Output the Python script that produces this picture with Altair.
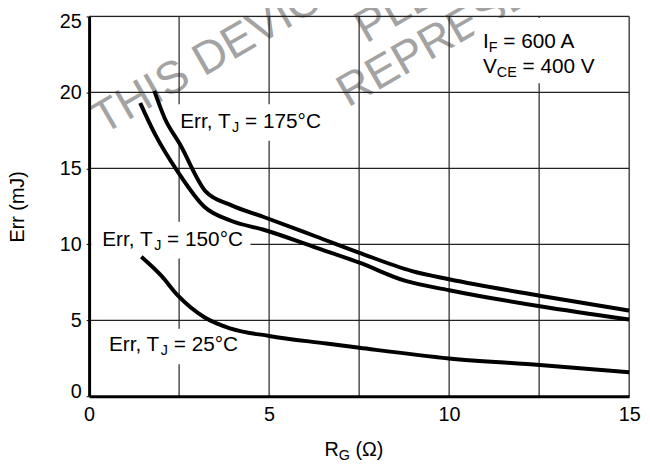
import altair as alt
import pandas as pd

# ---------------- data ----------------
rg_175 = [1.81, 2.10, 2.52, 3.25, 3.94, 4.85, 6.32, 7.51, 8.97, 10.0, 12.52, 15.0]
err_175 = [20.1, 18.3, 16.6, 13.45, 12.58, 11.8, 10.5, 9.44, 8.24, 7.70, 6.62, 5.64]

rg_150 = [1.42, 1.83, 2.47, 3.20, 3.94, 4.85, 6.32, 7.51, 8.79, 10.0, 12.52, 15.0]
err_150 = [19.3, 17.25, 14.75, 12.47, 11.55, 10.96, 9.77, 8.79, 7.59, 6.98, 5.92, 5.05]

rg_25 = [1.45, 2.01, 2.47, 3.20, 3.94, 5.0, 6.59, 7.51, 10.0, 12.52, 15.0]
err_25 = [9.18, 7.92, 6.62, 5.20, 4.45, 3.97, 3.47, 3.19, 2.49, 2.06, 1.58]

x_ticks = [0, 5, 10, 15]
y_ticks = [0, 5, 10, 15, 20, 25]
x_grid = [2.5, 5, 7.5, 10, 12.5, 15]
y_grid = [5, 10, 15, 20, 25]

y_title = "Err (mJ)"
watermark_lines = ["THIS DEVICE", "PLEASE", "REPRESENTATIVE"]

# ---------------- layout / style ----------------
W, H = 546, 384
FONT = "Liberation Sans"
ANN, SUB, SUB_DY = 21, 14.5, 4
TITLE = 20

x_scale = alt.Scale(domain=[0, 15], nice=False, zero=False)
y_scale = alt.Scale(domain=[0, 25], nice=False, zero=False)

X_AXIS = alt.Axis(values=x_ticks, grid=False, ticks=False, title=None,
                  domainColor="black", domainWidth=3,
                  labelFont=FONT, labelFontSize=20, labelColor="black",
                  labelPadding=9, labelFlush=False, zindex=1)
Y_AXIS = alt.Axis(values=y_ticks, grid=False, ticks=True, tickSize=3,
                  tickColor="black", title=y_title,
                  domainColor="black", domainWidth=3,
                  labelFont=FONT, labelFontSize=20, labelColor="black",
                  labelPadding=5, labelFlush=True, labelFlushOffset=5,
                  titleFont=FONT, titleFontSize=20, titleFontWeight="normal",
                  titleColor="black", titlePadding=32, zindex=1)


def X(field):
    return alt.X(field, scale=x_scale, axis=X_AXIS)


def Y(field):
    return alt.Y(field, scale=y_scale, axis=Y_AXIS)


# Liberation Sans / Arial advance widths (per 1000 em)
WIDTHS = {' ': 278, ',': 278, '(': 333, ')': 333, '=': 584, 'A': 667,
          'C': 722, 'E': 667, 'F': 611, 'G': 778, 'I': 278, 'J': 500, 'R': 722,
          'T': 611, 'V': 667, 'r': 333, 'm': 833, '°': 400, 'Ω': 768}


def tw(s, size):
    return sum(WIDTHS.get(c, 556) for c in s) * size / 1000.0


def composite(x, y, parts, main=ANN, pixel=False):
    """Text built from pieces so that subscripts can be drawn."""
    layers = []
    off = 0.0
    for txt, is_sub in parts:
        size = SUB if is_sub else main
        lead = len(txt) - len(txt.lstrip(" "))
        off += lead * WIDTHS[' '] * size / 1000.0
        txt = txt.lstrip(" ")
        df = pd.DataFrame({"x": [x], "y": [y], "t": [txt]})
        mk = alt.Chart(df).mark_text(
            align="left", baseline="alphabetic", dx=off,
            dy=SUB_DY if is_sub else 0, fontSize=size, font=FONT, color="black")
        if pixel:
            enc = mk.encode(x=alt.value(x), y=alt.value(y), text="t:N")
        else:
            enc = mk.encode(x=X("x:Q"), y=Y("y:Q"), text="t:N")
        layers.append(enc)
        off += tw(txt, size)
    return layers


# ---------------- watermark ----------------
wm_df = pd.DataFrame({"x": [0.385, 7.69, 7.19], "y": [17.2, 23.2, 18.99],
                      "t": watermark_lines})
watermark = alt.Chart(wm_df).mark_text(
    angle=330, align="left", baseline="alphabetic", fontSize=46,
    font=FONT, color="#a3a3a3").encode(x=X("x:Q"), y=Y("y:Q"), text="t:N")

# ---------------- grid ----------------
vgrid = alt.Chart(pd.DataFrame({"g": x_grid})).mark_rule(
    color="#222222", strokeWidth=1.2).encode(x=X("g:Q"))
hgrid = alt.Chart(pd.DataFrame({"g": y_grid})).mark_rule(
    color="#222222", strokeWidth=1.2).encode(y=Y("g:Q"))

# ---------------- white boxes behind labels ----------------
boxes_df = pd.DataFrame({
    "x1": [2.42, 0.06, 0.35, 10.7],
    "x2": [6.6, 4.48, 4.2, 14.7],
    "y1": [16.82, 9.07, 2.10, 20.6],
    "y2": [19.22, 11.48, 4.45, 24.9],
})
boxes = alt.Chart(boxes_df).mark_rect(color="white").encode(
    x=X("x1:Q"), x2="x2:Q", y=Y("y1:Q"), y2="y2:Q")

# ---------------- curves ----------------
curves = pd.concat([
    pd.DataFrame({"rg": rg_175, "err": err_175, "s": "175"}),
    pd.DataFrame({"rg": rg_150, "err": err_150, "s": "150"}),
    pd.DataFrame({"rg": rg_25, "err": err_25, "s": "25"}),
])
lines = alt.Chart(curves).mark_line(
    color="black", strokeWidth=4, interpolate="monotone", strokeCap="butt").encode(
    x=X("rg:Q"), y=Y("err:Q"), detail="s:N")

# ---------------- labels ----------------
labels = []
labels += composite(2.53, 17.66, [("Err, T", False), ("J", True), (" = 175°C", False)])
labels += composite(0.365, 9.87, [("Err, T", False), ("J", True), (" = 150°C", False)])
labels += composite(0.55, 2.97, [("Err, T", False), ("J", True), (" = 25°C", False)])
labels += composite(10.94, 22.94, [("I", False), ("F", True), (" = 600 A", False)])
labels += composite(10.94, 21.26, [("V", False), ("CE", True), (" = 400 V", False)])
labels += composite(238, 444, [("R", False), ("G", True), (" (Ω)", False)],
                    main=TITLE, pixel=True)

chart = alt.layer(watermark, vgrid, hgrid, boxes, lines, *labels).properties(
    width=W, height=H,
    autosize=alt.AutoSizeParams(type="none"),
    padding={"left": 82, "top": 6, "right": 13, "bottom": 70},
).configure_view(stroke=None).configure(background="white")

chart.save("out.html", embed_options={"renderer": "svg", "actions": False})
